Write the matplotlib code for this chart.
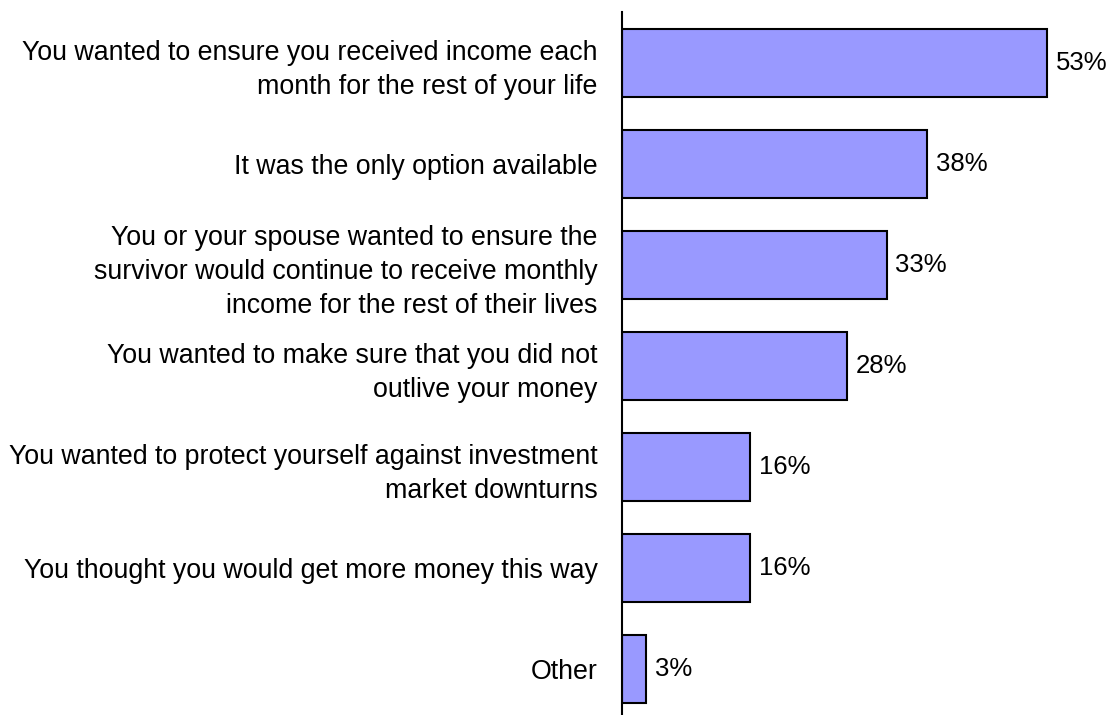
import matplotlib.pyplot as plt

# survey answers, top to bottom
reasons = [
    "You wanted to ensure you received income each\nmonth for the rest of your life",
    "It was the only option available",
    "You or your spouse wanted to ensure the\nsurvivor would continue to receive monthly\nincome for the rest of their lives",
    "You wanted to make sure that you did not\noutlive your money",
    "You wanted to protect yourself against investment\nmarket downturns",
    "You thought you would get more money this way",
    "Other",
]
shares = [53, 38, 33, 28, 16, 16, 3]

plt.rcParams['font.family'] = ['Liberation Sans', 'DejaVu Sans']

fig = plt.figure(figsize=(11.12, 7.15), dpi=100)
ax = fig.add_axes([0.5594, -0.006, 0.4406, 0.989])

pos = list(range(len(reasons)))
ax.barh(pos, shares, height=0.67, color='#9999ff', edgecolor='black', linewidth=1.5)

for y, v in zip(pos, shares):
    ax.text(v + 1.1, y, f"{v}%", va='center', ha='left', fontsize=18.5)

ax.set_yticks(pos)
ax.set_yticklabels(reasons, fontsize=19.3, linespacing=1.42)
ax.tick_params(axis='y', length=0, pad=17.5)
ax.set_ylim(len(reasons) - 0.5, -0.5)
ax.set_xlim(0, 61.1)
ax.set_xticks([])

for s in ['top', 'right', 'bottom']:
    ax.spines[s].set_visible(False)
ax.spines['left'].set_linewidth(1.5)

fig.savefig('out.png', dpi=100)
